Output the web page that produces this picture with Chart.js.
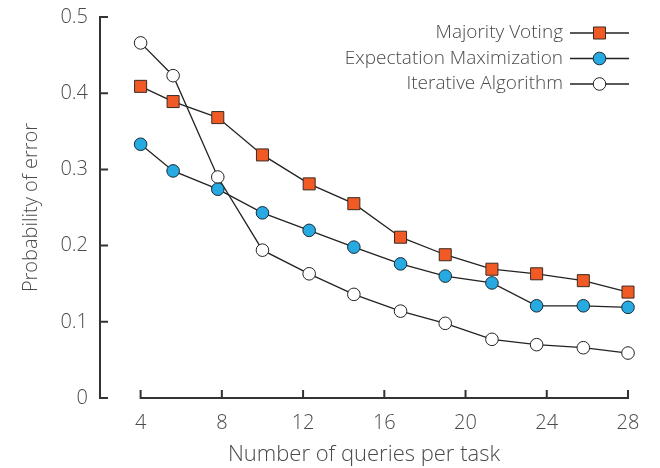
<!DOCTYPE html>
<html>
<head>
<meta charset="utf-8">
<script src="https://cdn.jsdelivr.net/npm/chart.js@4/dist/chart.umd.min.js"></script>
<style>
  html, body { margin: 0; padding: 0; background: #fff; }
  #wrap { width: 660px; height: 468px; }
</style>
</head>
<body>
<div id="wrap"><canvas id="lineChart"></canvas></div>
<script>
var queries = [4, 5.6, 7.8, 10, 12.3, 14.5, 16.8, 19, 21.3, 23.5, 25.8, 28];
var majorityVoting = [0.409, 0.389, 0.368, 0.319, 0.281, 0.255, 0.211, 0.188, 0.169, 0.163, 0.154, 0.139];
var expectationMax = [0.333, 0.298, 0.274, 0.243, 0.220, 0.198, 0.176, 0.160, 0.151, 0.121, 0.121, 0.119];
var iterativeAlgo = [0.466, 0.423, 0.290, 0.194, 0.163, 0.136, 0.114, 0.098, 0.077, 0.070, 0.066, 0.059];
var xTicks = [4, 8, 12, 16, 20, 24, 28];
var yTicks = [0, 0.1, 0.2, 0.3, 0.4, 0.5];

var textColor = '#4a4a4a';
var fontFamily = '"Open Sans", "DejaVu Sans", sans-serif';

function toPoints(ys) {
  return ys.map(function (y, i) { return { x: queries[i], y: y }; });
}

// axes drawn as offset spines with inward ticks
var spines = {
  id: 'spines',
  afterDraw: function (chart) {
    var ctx = chart.ctx, xs = chart.scales.x, ys = chart.scales.y;
    var y0 = ys.getPixelForValue(0), y1 = ys.getPixelForValue(0.5);
    var x0 = xs.getPixelForValue(4), x1 = xs.getPixelForValue(28);
    var left = chart.chartArea.left;
    ctx.save();
    ctx.strokeStyle = '#333';
    ctx.lineWidth = 2;
    ctx.beginPath();
    ctx.moveTo(left, y1); ctx.lineTo(left, y0);
    yTicks.forEach(function (v) {
      var p = ys.getPixelForValue(v);
      ctx.moveTo(left - 1, p); ctx.lineTo(left + 8, p);
    });
    ctx.moveTo(x0, y0); ctx.lineTo(x1, y0);
    xTicks.forEach(function (v) {
      var p = xs.getPixelForValue(v);
      ctx.moveTo(p, y0 + 1); ctx.lineTo(p, y0 - 8);
    });
    ctx.stroke();
    ctx.restore();
  }
};

// legend: text on the left, line sample with marker on the right
var sideLegend = {
  id: 'sideLegend',
  afterDraw: function (chart) {
    var ctx = chart.ctx;
    var right = 629, lineLen = 59, rowY = 33, rowH = 25.5;
    ctx.save();
    ctx.font = '300 19px ' + fontFamily;
    ctx.textAlign = 'right';
    ctx.textBaseline = 'middle';
    chart.data.datasets.forEach(function (ds, i) {
      var y = rowY + i * rowH;
      var cx = right - lineLen / 2;
      ctx.fillStyle = textColor;
      ctx.fillText(ds.label, right - lineLen - 7, y);
      ctx.strokeStyle = '#222';
      ctx.lineWidth = 1.3;
      ctx.beginPath();
      ctx.moveTo(right - lineLen, y); ctx.lineTo(right, y);
      ctx.stroke();
      ctx.fillStyle = ds.pointBackgroundColor;
      ctx.strokeStyle = ds.pointBorderColor;
      ctx.lineWidth = ds.pointBorderWidth;
      ctx.beginPath();
      if (ds.pointStyle === 'rect') {
        var s = ds.pointRadius * Math.SQRT1_2;
        ctx.rect(cx - s, y - s, 2 * s, 2 * s);
      } else {
        ctx.arc(cx, y, ds.pointRadius, 0, Math.PI * 2);
      }
      ctx.fill();
      ctx.stroke();
    });
    ctx.restore();
  }
};

var lineData = {
  datasets: [
    {
      label: 'Majority Voting',
      data: toPoints(majorityVoting),
      borderColor: '#222',
      borderWidth: 1.3,
      pointStyle: 'rect',
      pointRadius: 8.5,
      pointBackgroundColor: '#f15a24',
      pointBorderColor: '#3a2a22',
      pointBorderWidth: 1
    },
    {
      label: 'Expectation Maximization',
      data: toPoints(expectationMax),
      borderColor: '#222',
      borderWidth: 1.3,
      pointStyle: 'circle',
      pointRadius: 6.3,
      pointBackgroundColor: '#27a9e1',
      pointBorderColor: '#1a2a33',
      pointBorderWidth: 1
    },
    {
      label: 'Iterative Algorithm',
      data: toPoints(iterativeAlgo),
      borderColor: '#222',
      borderWidth: 1.3,
      pointStyle: 'circle',
      pointRadius: 6.3,
      pointBackgroundColor: '#ffffff',
      pointBorderColor: '#222',
      pointBorderWidth: 1
    }
  ]
};

var lineOptions = {
  responsive: true,
  maintainAspectRatio: false,
  animation: false,
  layout: { padding: { top: 17, right: 32, left: 0, bottom: 0 } },
  plugins: { legend: { display: false }, tooltip: { enabled: false } },
  elements: { line: { tension: 0 } },
  clip: false,
  scales: {
    x: {
      type: 'linear',
      min: 2,
      max: 28,
      afterBuildTicks: function (axis) {
        axis.ticks = xTicks.map(function (v) { return { value: v }; });
      },
      afterFit: function (axis) {
        axis.height = 70;
        axis.paddingLeft = 0;
        axis.paddingRight = 0;
      },
      grid: { display: false, drawTicks: false },
      border: { display: false },
      ticks: {
        padding: 13,
        color: textColor,
        font: { family: fontFamily, size: 20, weight: '300' }
      },
      title: {
        display: true,
        text: 'Number of queries per task',
        color: textColor,
        padding: { top: 0, bottom: 0 },
        font: { family: fontFamily, size: 22, weight: '300' }
      }
    },
    y: {
      min: 0,
      max: 0.5,
      afterBuildTicks: function (axis) {
        axis.ticks = yTicks.map(function (v) { return { value: v }; });
      },
      afterFit: function (axis) {
        axis.width = 100;
        axis.paddingTop = 0;
        axis.paddingBottom = 0;
      },
      grid: { display: false, drawTicks: false },
      border: { display: false },
      ticks: {
        padding: 12,
        color: textColor,
        font: { family: fontFamily, size: 20, weight: '300' },
        callback: function (v) { return v === 0 ? '0' : v.toFixed(1); }
      },
      title: {
        display: true,
        text: 'Probability of error',
        color: textColor,
        padding: { top: 19, bottom: 0 },
        font: { family: fontFamily, size: 20, weight: '300' }
      }
    }
  }
};

var lineChart = new Chart(document.getElementById('lineChart').getContext('2d'), {
  type: 'line',
  data: lineData,
  options: lineOptions,
  plugins: [spines, sideLegend]
});
</script>
</body>
</html>
